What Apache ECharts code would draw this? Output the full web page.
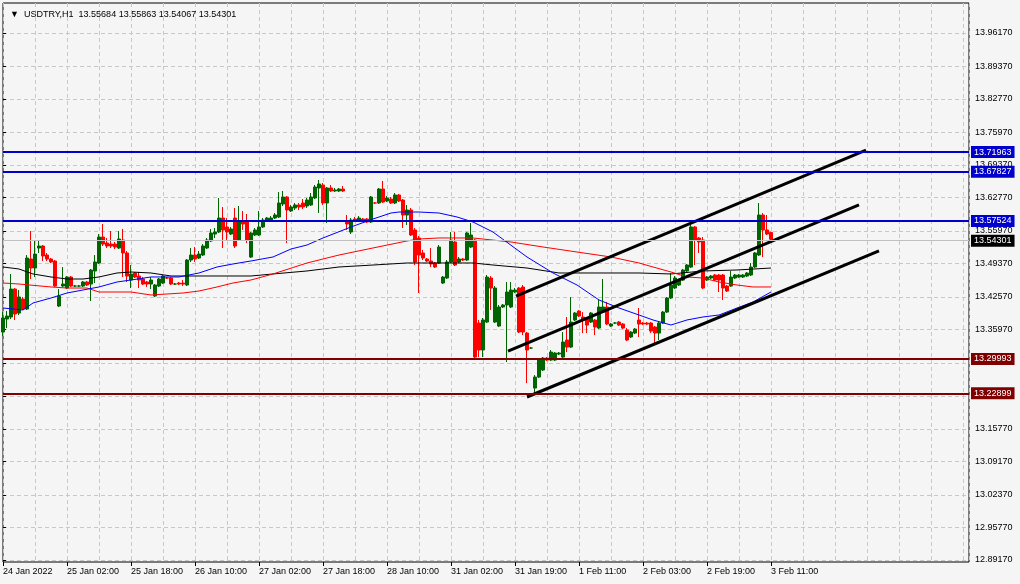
<!DOCTYPE html>
<html><head><meta charset="utf-8">
<script src="https://cdn.jsdelivr.net/npm/echarts@6/dist/echarts.min.js"></script>
<style>html,body{margin:0;padding:0;background:#f5f5f5}#c{width:1020px;height:584px}</style>
</head><body><div id="c"></div>
<script>
const titleText = '\u25BC  USDTRY,H1  13.55684 13.55863 13.54067 13.54301';
const timeLabels = ['24 Jan 2022','25 Jan 02:00','25 Jan 18:00','26 Jan 10:00','27 Jan 02:00','27 Jan 18:00','28 Jan 10:00','31 Jan 02:00','31 Jan 19:00','1 Feb 11:00','2 Feb 03:00','2 Feb 19:00','3 Feb 11:00'];
const timeLabelBars = [0,16,32,48,64,80,96,112,128,144,160,176,192];
const priceTicks = [13.96170,13.89370,13.82770,13.75970,13.69370,13.62770,13.55970,13.49370,13.42570,13.35970,13.29170,13.22370,13.15770,13.09170,13.02370,12.95770,12.89170];

const open = [13.3545,13.3809,13.3850,13.4418,13.3931,13.4215,13.4012,13.5028,13.4845,13.5251,
13.5292,13.5109,13.5028,13.4987,13.4073,13.4479,13.4439,13.4662,13.4479,13.4479,
13.4479,13.4561,13.4520,13.4784,13.4946,13.5474,13.5353,13.5332,13.5332,13.5251,
13.5414,13.5150,13.4601,13.4743,13.4682,13.4622,13.4561,13.4520,13.4276,13.4479,
13.4540,13.4642,13.4642,13.4520,13.4540,13.4540,13.4500,13.5007,13.5109,13.5048,
13.5109,13.5251,13.5393,13.5535,13.5576,13.5860,13.5678,13.5535,13.5860,13.5414,
13.5779,13.5779,13.5068,13.5515,13.5515,13.5678,13.5820,13.5820,13.5860,13.5881,
13.6145,13.6287,13.6003,13.6064,13.6125,13.6165,13.6104,13.6125,13.6267,13.6470,
13.6531,13.6165,13.6470,13.6409,13.6409,13.6449,13.5779,13.5576,13.5840,13.5820,
13.5840,13.5840,13.5779,13.6165,13.6165,13.6449,13.6206,13.6246,13.6165,13.6328,
13.6226,13.5921,13.6023,13.5617,13.5454,13.5150,13.5028,13.4987,13.4946,13.4946,
13.4540,13.4642,13.4967,13.5373,13.4967,13.5028,13.5007,13.5271,13.5414,13.3728,
13.3180,13.3748,13.4642,13.3748,13.3667,13.4053,13.4094,13.4053,13.4358,13.4439,
13.4459,13.3525,13.3220,13.2408,13.2631,13.2774,13.3017,13.2976,13.2976,13.3098,
13.3037,13.3383,13.3240,13.3789,13.3972,13.3850,13.3830,13.3748,13.3789,13.3626,
13.3951,13.4053,13.3667,13.3728,13.3748,13.3708,13.3586,13.3444,13.3525,13.3789,
13.3728,13.3728,13.3728,13.3647,13.3525,13.3728,13.3951,13.4236,13.4439,13.4500,
13.4601,13.4784,13.4865,13.5678,13.5454,13.5414,13.4601,13.4642,13.4703,13.4703,
13.4703,13.4479,13.4479,13.4642,13.4662,13.4662,13.4682,13.4703,13.4865,13.5109,
13.5921,13.5617,13.55684];
const close = [13.3830,13.3870,13.4418,13.3911,13.4256,13.4012,13.5048,13.4845,13.5129,13.5292,
13.5089,13.5028,13.4967,13.4479,13.4276,13.4520,13.4662,13.4479,13.4479,13.4479,
13.4561,13.4500,13.4804,13.4967,13.5474,13.5332,13.5292,13.5292,13.5271,13.5434,
13.5150,13.4682,13.4723,13.4662,13.4601,13.4520,13.4520,13.4601,13.4500,13.4622,
13.4682,13.4642,13.4520,13.4520,13.4520,13.4520,13.5007,13.5109,13.5028,13.5129,
13.5292,13.5414,13.5556,13.5576,13.5860,13.5617,13.5576,13.5637,13.5292,13.5779,
13.5739,13.5414,13.5556,13.5617,13.5678,13.5820,13.5860,13.5860,13.5921,13.6165,
13.6287,13.6023,13.6084,13.6125,13.6084,13.6084,13.6226,13.6287,13.6490,13.6551,
13.6165,13.6470,13.6409,13.6429,13.6449,13.6409,13.5739,13.5820,13.5799,13.5860,
13.5799,13.5779,13.6287,13.6165,13.6449,13.6185,13.6267,13.6165,13.6328,13.6206,
13.5921,13.6023,13.5515,13.4967,13.5109,13.5048,13.4987,13.4926,13.4865,13.5271,
13.4662,13.4967,13.5414,13.4906,13.5028,13.5007,13.5556,13.5515,13.3037,13.3180,
13.3789,13.4662,13.4439,13.4439,13.4053,13.4094,13.4358,13.4398,13.4398,13.3545,
13.3545,13.3180,13.3220,13.2631,13.2997,13.3017,13.2976,13.3139,13.3119,13.3119,
13.3342,13.3240,13.3748,13.3931,13.3870,13.3789,13.3687,13.3931,13.3647,13.4053,
13.4053,13.3708,13.3708,13.3728,13.3687,13.3626,13.3383,13.3545,13.3606,13.3708,
13.3708,13.3708,13.3565,13.3525,13.3728,13.3951,13.4236,13.4500,13.4642,13.4601,
13.4804,13.4906,13.5678,13.5414,13.5373,13.4439,13.4662,13.4682,13.4601,13.4601,
13.4439,13.4378,13.4662,13.4703,13.4703,13.4703,13.4743,13.4865,13.5150,13.5921,
13.5617,13.5535,13.54301];
const low = [13.3464,13.3626,13.3809,13.3789,13.3890,13.3992,13.3992,13.4622,13.4662,13.5150,
13.4987,13.4987,13.4946,13.4459,13.4053,13.4459,13.4418,13.4459,13.4459,13.4459,
13.4459,13.4479,13.4175,13.4540,13.4926,13.5292,13.5251,13.5251,13.5231,13.5231,
13.4662,13.4561,13.4439,13.4642,13.4439,13.4500,13.4459,13.4418,13.4256,13.4459,
13.4520,13.4622,13.4500,13.4500,13.4500,13.4479,13.4479,13.4967,13.4967,13.5028,
13.5089,13.5231,13.5373,13.5454,13.5556,13.5251,13.5414,13.5515,13.5251,13.5393,
13.5617,13.5353,13.5048,13.5495,13.5495,13.5657,13.5799,13.5799,13.5840,13.5860,
13.6104,13.5353,13.5982,13.6023,13.6023,13.6043,13.6064,13.6104,13.6246,13.5962,
13.6125,13.5759,13.6388,13.6388,13.6388,13.6388,13.5617,13.5535,13.5779,13.5799,
13.5779,13.5759,13.5759,13.6145,13.6145,13.6165,13.6185,13.6145,13.6145,13.6185,
13.5657,13.5718,13.5495,13.4906,13.4337,13.5007,13.4967,13.4865,13.4845,13.4926,
13.4520,13.4622,13.4946,13.4886,13.4946,13.4987,13.4987,13.5251,13.3017,13.3037,
13.3037,13.3728,13.3992,13.3728,13.3647,13.4033,13.2936,13.4033,13.4337,13.3525,
13.3484,13.2509,13.3200,13.2306,13.2611,13.2753,13.2956,13.2956,13.2956,13.3078,
13.3017,13.3139,13.3220,13.3769,13.3850,13.3525,13.3525,13.3728,13.3484,13.3606,
13.3931,13.3687,13.3647,13.3708,13.3667,13.3606,13.3362,13.3423,13.3505,13.3444,
13.3687,13.3687,13.3525,13.3322,13.3383,13.3708,13.3931,13.4215,13.4418,13.4479,
13.4581,13.4764,13.4845,13.4906,13.5150,13.4418,13.4581,13.4622,13.4581,13.4358,
13.4195,13.4358,13.4459,13.4622,13.4642,13.4642,13.4662,13.4682,13.4845,13.5089,
13.5068,13.5515,13.54067];
const high = [13.3951,13.3972,13.4723,13.4439,13.4398,13.4256,13.5109,13.5596,13.5393,13.5393,
13.5312,13.5150,13.5048,13.5007,13.4418,13.4865,13.4682,13.4682,13.4500,13.4500,
13.4581,13.4581,13.4825,13.5109,13.5535,13.5739,13.5454,13.5596,13.5373,13.5596,
13.5637,13.5190,13.4906,13.4764,13.4764,13.4662,13.4581,13.4662,13.4520,13.4642,
13.4703,13.4662,13.4662,13.4540,13.4561,13.4601,13.5028,13.5251,13.5271,13.5190,
13.5332,13.5454,13.5637,13.5657,13.6267,13.6084,13.5860,13.5678,13.6064,13.6104,
13.6003,13.5942,13.5576,13.5657,13.6003,13.5860,13.5881,13.5901,13.5962,13.6388,
13.6409,13.6307,13.6125,13.6165,13.6165,13.6246,13.6267,13.6368,13.6531,13.6632,
13.6571,13.6490,13.6531,13.6470,13.6470,13.6510,13.5921,13.5860,13.5881,13.5901,
13.5860,13.5860,13.6307,13.6185,13.6470,13.6612,13.6307,13.6287,13.6368,13.6348,
13.6246,13.6125,13.6064,13.5657,13.5495,13.5211,13.5048,13.5251,13.4967,13.5312,
13.4682,13.5007,13.5576,13.5576,13.5068,13.5048,13.5576,13.5759,13.5434,13.3789,
13.3830,13.4703,13.4682,13.4479,13.4094,13.4114,13.4561,13.4561,13.4439,13.4459,
13.4500,13.3545,13.3240,13.2672,13.3017,13.3037,13.3037,13.3180,13.3139,13.3139,
13.3545,13.3850,13.4256,13.3951,13.3992,13.3951,13.3850,13.3951,13.3809,13.4195,
13.4622,13.4155,13.3728,13.3748,13.3769,13.3728,13.3626,13.3565,13.3626,13.4033,
13.3748,13.3748,13.3748,13.3667,13.3748,13.3972,13.4256,13.4743,13.4682,13.4622,
13.4825,13.4926,13.5718,13.5698,13.5474,13.5474,13.4682,13.4703,13.4723,13.4723,
13.4723,13.4500,13.4784,13.4723,13.4723,13.4723,13.4764,13.4946,13.5170,13.6165,
13.5962,13.5921,13.55863];

// moving averages: [bar index, price]
const maFast = [[0,13.4033],[5,13.3993],[7.5,13.4135],[12,13.4236],[16,13.4338],[20,13.4399],[24,13.4460],[28.5,13.4561],[32,13.4602],[37,13.4663],[44,13.4663],[49,13.4744],[53.5,13.4866],[57.5,13.4927],[62,13.4988],[67.5,13.5069],[72,13.5231],[76,13.5312],[80,13.5455],[87,13.5678],[92.5,13.5840],[97,13.5962],[99,13.5982],[104,13.5982],[109,13.5962],[113.5,13.5881],[117.5,13.5779],[122.5,13.5576],[131,13.5069],[137.5,13.4744],[143.5,13.4500],[149,13.4196],[154,13.4033],[159,13.3891],[162.5,13.3790],[167,13.3688],[171,13.3790],[175,13.3851],[179,13.3891],[183.5,13.4033],[187.5,13.4155],[192,13.4358]];
const maMid = [[0,13.4541],[4,13.4520],[12,13.4460],[16,13.4439],[21,13.4439],[24,13.4358],[32,13.4358],[37,13.4297],[45,13.4338],[49,13.4378],[53.5,13.4460],[57.5,13.4541],[62,13.4602],[67.5,13.4724],[76,13.4947],[84,13.5109],[92.5,13.5252],[101,13.5394],[104,13.5434],[109,13.5455],[117.5,13.5455],[127,13.5373],[135,13.5272],[143.5,13.5170],[152,13.5069],[159,13.4947],[162.5,13.4866],[167,13.4764],[171,13.4663],[175,13.4642],[179,13.4561],[183.5,13.4500],[187.5,13.4460],[192,13.4460]];
const maSlow = [[0,13.4866],[4,13.4825],[7.5,13.4724],[12,13.4663],[16,13.4622],[20,13.4622],[24,13.4663],[28.5,13.4744],[32,13.4764],[37,13.4744],[42,13.4683],[62,13.4683],[67.5,13.4724],[76,13.4785],[84,13.4866],[92.5,13.4906],[101,13.4947],[117.5,13.4947],[122.5,13.4906],[131,13.4845],[139,13.4744],[159,13.4744],[167,13.4724],[175,13.4785],[183.5,13.4805],[192,13.4845]];

// channel trend lines: [bar index, price] start and end
const channelUpper = [[128.25,13.4276],[215.75,13.7241]];
const channelMiddle = [[126.25,13.3159],[214,13.6125]];
const channelLower = [[131,13.2226],[219,13.5191]];

const resistanceLevels = [13.71963,13.67827,13.57524];
const supportLevels = [13.29993,13.22899];
const lastPrice = 13.54301;

const FONT = '"Liberation Sans", "DejaVu Sans", sans-serif';
const candleData = open.map((o,i)=>[i,o,close[i],low[i],high[i]]);

function levelLine(v, col, w){
  return {yAxis:v, lineStyle:{color:col,width:w,type:'solid'},
    label:{show:true, position:'end', distance:2, formatter:v.toFixed(5), color:'#fff',
      backgroundColor:col==='#c0c0c0'?'#000':col, padding:[2,3,1,3], fontSize:9, fontFamily:FONT}};
}

const chart = echarts.init(document.getElementById('c'));
chart.setOption({
  animation:false,
  backgroundColor:'#f5f5f5',
  textStyle:{fontFamily:FONT},
  title:{text:titleText,left:5,top:5,textStyle:{fontSize:9,fontWeight:'normal',color:'#000',fontFamily:FONT}},
  grid:{left:3,right:51,top:3,bottom:22,show:true,borderColor:'#000',borderWidth:1,backgroundColor:'#f5f5f5'},
  xAxis:[
    {type:'value',min:0,max:241.5,interval:8,axisLine:{show:false},axisTick:{show:false},axisLabel:{show:false},
     splitLine:{show:true,lineStyle:{color:'#c8c8c8',type:[4,3],width:1}}},
    {type:'value',min:0,max:241.5,position:'bottom',axisLine:{show:false},
     axisTick:{show:true,customValues:timeLabelBars,length:4,lineStyle:{color:'#000'}},
     axisLabel:{customValues:timeLabelBars,align:'left',margin:5,fontSize:9,color:'#000',fontFamily:FONT,
       formatter:function(v){const k=timeLabelBars.indexOf(Math.round(v));return k>=0?timeLabels[k]:'';}},
     splitLine:{show:false}}
  ],
  yAxis:{type:'value',position:'right',min:12.8876,max:14.0226,scale:true,axisLine:{show:false},
    axisTick:{show:true,customValues:priceTicks,length:3,lineStyle:{color:'#000'}},
    axisLabel:{customValues:priceTicks,margin:6,fontSize:9,color:'#000',fontFamily:FONT,formatter:function(v){return v.toFixed(5);}},
    splitLine:{show:true,lineStyle:{color:'#c8c8c8',type:[4,3],width:1}}},
  series:[
    {type:'candlestick',xAxisIndex:0,data:candleData,encode:{x:0,y:[1,2,3,4]},barWidth:3,
     itemStyle:{color:'#006400',color0:'#ff0000',borderColor:'#006400',borderColor0:'#ff0000',borderWidth:1},z:2},
    {type:'line',xAxisIndex:0,data:maSlow,showSymbol:false,lineStyle:{color:'#000',width:1},z:3},
    {type:'line',xAxisIndex:0,data:maMid,showSymbol:false,lineStyle:{color:'#ff0000',width:1},z:3},
    {type:'line',xAxisIndex:0,data:maFast,showSymbol:false,lineStyle:{color:'#0000ff',width:1},z:3},
    {type:'line',xAxisIndex:0,data:channelUpper,showSymbol:false,lineStyle:{color:'#000',width:3},z:4},
    {type:'line',xAxisIndex:0,data:channelMiddle,showSymbol:false,lineStyle:{color:'#000',width:3},z:4},
    {type:'line',xAxisIndex:0,data:channelLower,showSymbol:false,lineStyle:{color:'#000',width:3},z:4},
    {type:'line',xAxisIndex:0,data:[],clip:false,z:5,
     markLine:{silent:true,symbol:['none','none'],animation:false,
       data:[levelLine(lastPrice,'#c0c0c0',1)]
         .concat(resistanceLevels.map(v=>levelLine(v,'#0000cc',2)))
         .concat(supportLevels.map(v=>levelLine(v,'#800000',2)))}}
  ]
});
</script></body></html>
